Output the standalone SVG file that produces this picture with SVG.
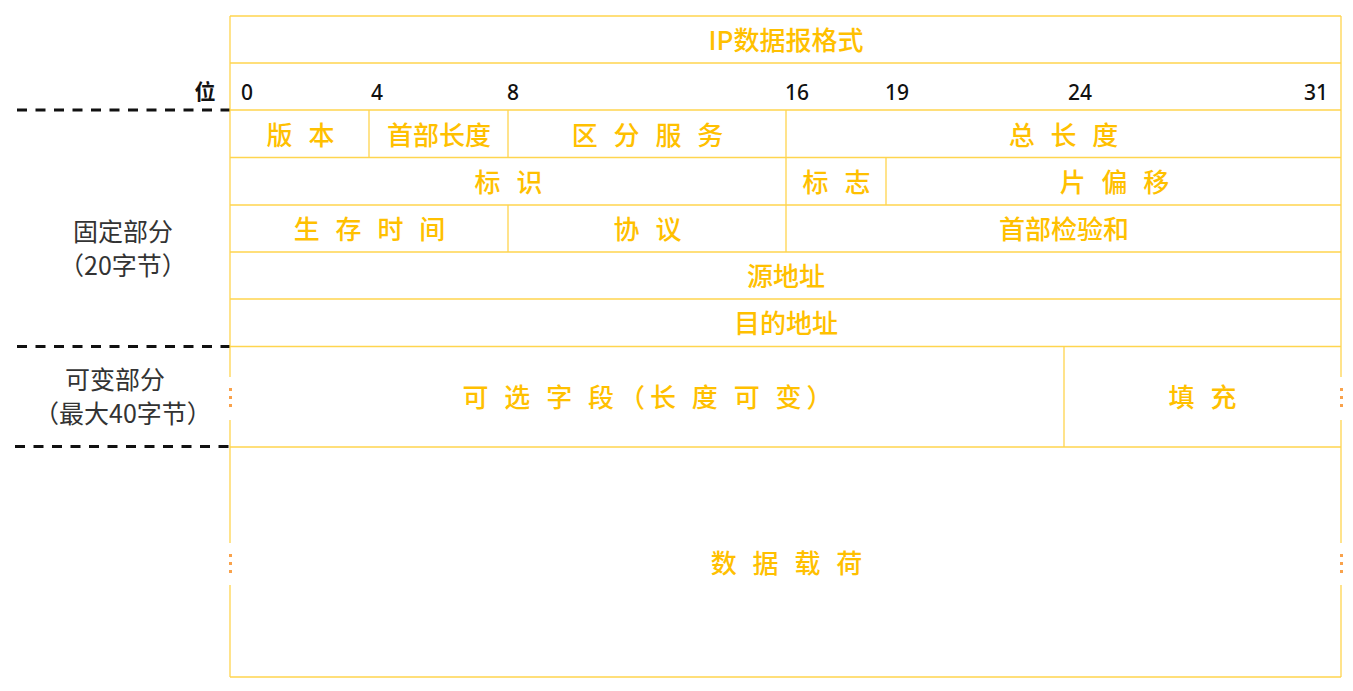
<svg xmlns="http://www.w3.org/2000/svg" width="1353" height="691" viewBox="0 0 1353 691">
<style>
.ln{stroke:#FFD54F;stroke-width:1.3;fill:none}
.dash{stroke:#111;stroke-width:3;stroke-dasharray:10 8.5;fill:none}
.f{font-family:"Noto Sans CJK SC","Noto Sans",sans-serif;font-size:26px;fill:#FFC000;text-anchor:middle;dominant-baseline:central;font-weight:500}
.s{letter-spacing:5px}
.n{font-family:"Noto Sans","Liberation Sans",sans-serif;font-size:21px;fill:#111;text-anchor:middle;dominant-baseline:central;font-weight:500}
.l{font-family:"Noto Sans CJK SC","Noto Sans",sans-serif;font-size:25px;fill:#333;text-anchor:middle;dominant-baseline:central}
.dot{fill:#F9A24B}
</style>
<rect width="1353" height="691" fill="#fff"/>
<g id="connectors">
<path class="dash" d="M17 110H230M17 346.5H230M15 446.5H230"/>
</g>
<g id="frame">
<path class="ln" d="M230 16H1341M230 63H1341M230 110H1341M230 157.5H1341M230 205H1341M230 252H1341M230 299H1341M230 346.5H1341M230 447H1341M230 677H1341"/>
<path class="ln" d="M230 16V377M230 420V543M230 585V677M1341 16V377M1341 420V543M1341 585V677"/>
<path class="ln" d="M369 110V157.5M508 110V157.5M786 110V157.5M786 157.5V205M886 157.5V205M508 205V252M786 205V252M1064 346.5V447"/>
</g>
<g id="title"><text class="f" x="786" y="38">IP数据报格式</text></g>
<g id="bits">
<text class="n" x="247" y="92">0</text>
<text class="n" x="377" y="92">4</text>
<text class="n" x="513" y="92">8</text>
<text class="n" x="797" y="92">16</text>
<text class="n" x="897" y="92">19</text>
<text class="n" x="1080" y="92">24</text>
<text class="n" x="1316" y="92">31</text>
<text class="n" x="205" y="90" style="font-family:'Noto Sans CJK SC',sans-serif;font-weight:700">位</text>
</g>
<g id="version"><text class="f s" x="303" y="133">版 本</text></g>
<g id="ihl"><text class="f" x="439" y="133">首部长度</text></g>
<g id="ds"><text class="f s" x="650" y="133">区 分 服 务</text></g>
<g id="total"><text class="f s" x="1066" y="133">总 长 度</text></g>
<g id="ident"><text class="f s" x="511" y="180">标 识</text></g>
<g id="flags"><text class="f s" x="839" y="180">标 志</text></g>
<g id="offset"><text class="f s" x="1117" y="180">片 偏 移</text></g>
<g id="ttl"><text class="f s" x="372" y="227">生 存 时 间</text></g>
<g id="proto"><text class="f s" x="650" y="227">协 议</text></g>
<g id="checksum"><text class="f" x="1064" y="227">首部检验和</text></g>
<g id="src"><text class="f" x="786" y="274">源地址</text></g>
<g id="dst"><text class="f" x="786" y="321">目的地址</text></g>
<g id="options"><text class="f s" x="650" y="395">可 选 字 段（长 度 可 变）</text></g>
<g id="padding"><text class="f s" x="1205" y="395">填 充</text></g>
<g id="payload"><text class="f s" x="789" y="561">数 据 载 荷</text></g>
<g id="dots">
<rect class="dot" x="229" y="388" width="3" height="3"/><rect class="dot" x="229" y="396" width="3" height="3"/><rect class="dot" x="229" y="404" width="3" height="3"/>
<rect class="dot" x="1340" y="388" width="3" height="3"/><rect class="dot" x="1340" y="396" width="3" height="3"/><rect class="dot" x="1340" y="404" width="3" height="3"/>
<rect class="dot" x="229" y="554" width="3" height="3"/><rect class="dot" x="229" y="562" width="3" height="3"/><rect class="dot" x="229" y="570" width="3" height="3"/>
<rect class="dot" x="1340" y="554" width="3" height="3"/><rect class="dot" x="1340" y="562" width="3" height="3"/><rect class="dot" x="1340" y="570" width="3" height="3"/>
</g>
<g id="fixed"><text class="l" x="123" y="230">固定部分</text><text class="l" x="123" y="264">（20字节）</text></g>
<g id="variable"><text class="l" x="115" y="378">可变部分</text><text class="l" x="123" y="412">（最大40字节）</text></g>
</svg>
